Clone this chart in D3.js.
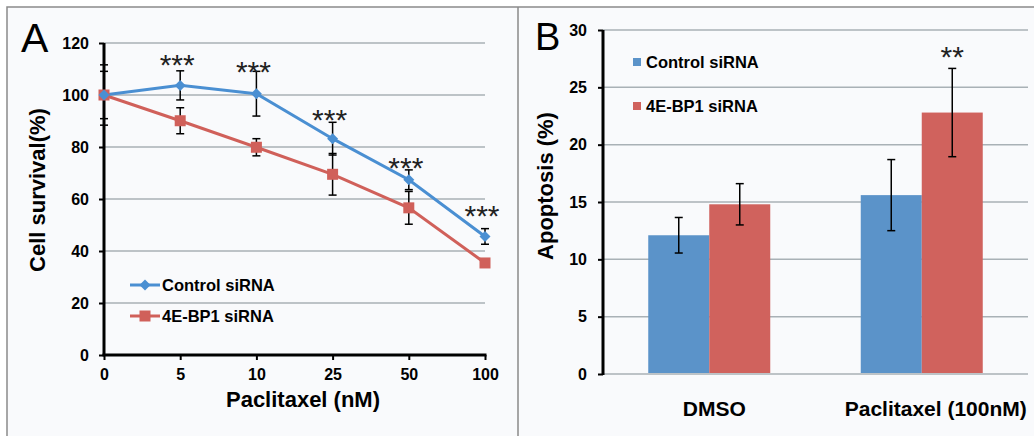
<!DOCTYPE html>
<html><head><meta charset="utf-8">
<script src="https://cdn.jsdelivr.net/npm/d3@7"></script>
<style>body{margin:0;background:#fff}svg{display:block;font-family:"Liberation Sans",Arial,sans-serif}</style>
</head><body>
<script>
// Panel A data
const doses = ["0","5","10","25","50","100"];
const controlSurv = [100, 103.7, 100.5, 83.2, 67.4, 45.6];
const controlSurvErr = [9.1, 5.6, 8.6, 6.3, 3.8, 3.0];
const bp1Surv = [100, 90.1, 79.9, 69.5, 56.6, 35.4];
const bp1SurvErr = [11.6, 5.0, 3.3, 8.0, 6.3, 1.0];
const starsA = ["***","***","***","***","***"];
const starsADose = ["5","10","25","50","100"];
const starsAY = [113.6, 110.7, 92.3, 73.8, 55.2];
const yTicksA = [0,20,40,60,80,100,120];
// Panel B data
const groups = ["DMSO","Paclitaxel (100nM)"];
const seriesB = ["Control siRNA","4E-BP1 siRNA"];
const controlApop = [12.1, 15.6];
const controlApopErr = [1.55, 3.1];
const bp1Apop = [14.8, 22.8];
const bp1ApopErr = [1.8, 3.85];
const starsB = ["", "**"];
const starsBY = 28.1;
const yTicksB = [0,5,10,15,20,25,30];

const blue = "#4a8fd2", red = "#d0605a";
const barBlue = "#5b93c9", barRed = "#d0625d";
const grid = "#a9b1b6";

const svg = d3.select("body").append("svg").attr("width",1034).attr("height",436);
svg.append("rect").attr("x",7).attr("y",7).attr("width",1040).attr("height",440)
  .attr("fill","#f9fafc").attr("stroke","#8a8a8a").attr("stroke-width",1.5);
svg.append("line").attr("x1",518).attr("x2",518).attr("y1",7).attr("y2",436)
  .attr("stroke","#8a8a8a").attr("stroke-width",1.5);

// ---------- Panel A ----------
const xA = d3.scalePoint().domain(doses).range([104,485]).padding(0);
const yA = d3.scaleLinear().domain([0,120]).range([355,43]);
const gA = svg.append("g");
gA.append("text").attr("x",21).attr("y",52).attr("font-size",41).text("A");
// grid
gA.selectAll(".gA").data(yTicksA.filter(d=>d>0)).join("line")
  .attr("x1",104).attr("x2",485).attr("y1",d=>yA(d)).attr("y2",d=>yA(d))
  .attr("stroke",grid).attr("stroke-width",1.5);
// y axis
const yAxA = d3.axisLeft(yA).tickValues(yTicksA).tickSize(5).tickPadding(10);
const gyA = gA.append("g").attr("transform","translate(104,0)").call(yAxA);
gyA.select(".domain").attr("stroke","#000").attr("stroke-width",3).attr("d","M0,43V356");
gyA.selectAll(".tick line").attr("stroke","#000").attr("stroke-width",2);
gyA.selectAll(".tick text").attr("font-size",16).attr("font-weight","bold").attr("fill","#000")
  .attr("font-family","Liberation Sans, Arial, sans-serif");
// x axis
const xAxA = d3.axisBottom(xA).tickSize(5).tickPadding(9);
const gxA = gA.append("g").attr("transform","translate(0,355)").call(xAxA);
gxA.select(".domain").attr("stroke","#000").attr("stroke-width",3).attr("d","M102.5,0H486.5");
gxA.selectAll(".tick line").attr("stroke","#000").attr("stroke-width",2);
gxA.selectAll(".tick text").attr("font-size",16).attr("font-weight","bold").attr("fill","#000")
  .attr("font-family","Liberation Sans, Arial, sans-serif");
gA.append("text").attr("x",303).attr("y",407).attr("text-anchor","middle")
  .attr("font-size",22).attr("font-weight","bold").text("Paclitaxel (nM)");
gA.append("text").attr("transform","translate(45,190) rotate(-90)").attr("text-anchor","middle")
  .attr("font-size",22).attr("font-weight","bold").text("Cell survival(%)");

const lineA = d3.line().x((d,i)=>xA(doses[i])).y(d=>yA(d));
function errBars(g, vals, errs, xf, yf, cap){
  vals.forEach((v,i)=>{
    const x = xf(i), e = errs[i];
    g.append("line").attr("x1",x).attr("x2",x).attr("y1",yf(v+e)).attr("y2",yf(v-e)).attr("stroke","#000").attr("stroke-width",1.5);
    [v+e, v-e].forEach(t=>g.append("line").attr("x1",x-cap/2).attr("x2",x+cap/2).attr("y1",yf(t)).attr("y2",yf(t)).attr("stroke","#000").attr("stroke-width",1.5));
  });
}
gA.append("path").datum(bp1Surv).attr("d",lineA).attr("fill","none").attr("stroke",red).attr("stroke-width",3);
gA.append("path").datum(controlSurv).attr("d",lineA).attr("fill","none").attr("stroke",blue).attr("stroke-width",3);
errBars(gA, bp1Surv, bp1SurvErr, i=>xA(doses[i]), yA, 8);
errBars(gA, controlSurv, controlSurvErr, i=>xA(doses[i]), yA, 8);
gA.selectAll(".sq").data(bp1Surv).join("rect")
  .attr("x",(d,i)=>xA(doses[i])-5.5).attr("y",d=>yA(d)-5.5).attr("width",11).attr("height",11).attr("fill",red);
gA.selectAll(".dm").data(controlSurv).join("path")
  .attr("transform",(d,i)=>`translate(${xA(doses[i])},${yA(d)})`).attr("d","M0,-5.5L5.5,0L0,5.5L-5.5,0Z").attr("fill",blue);
// stars
gA.selectAll(".st").data(starsA).join("text")
  .attr("x",(d,i)=>xA(starsADose[i])-3).attr("y",(d,i)=>yA(starsAY[i])+15)
  .attr("text-anchor","middle").attr("font-size",30).attr("fill","#222").text(d=>d);
// legend A
const legA = [{name:"Control siRNA",c:blue,sym:"d"},{name:"4E-BP1 siRNA",c:red,sym:"s"}];
legA.forEach((l,i)=>{
  const y = 285 + i*31;
  gA.append("line").attr("x1",130).attr("x2",160).attr("y1",y).attr("y2",y).attr("stroke",l.c).attr("stroke-width",3);
  if(l.sym==="d") gA.append("path").attr("transform",`translate(145,${y})`).attr("d","M0,-5.5L5.5,0L0,5.5L-5.5,0Z").attr("fill",l.c);
  else gA.append("rect").attr("x",139.5).attr("y",y-5.5).attr("width",11).attr("height",11).attr("fill",l.c);
  gA.append("text").attr("x",162).attr("y",y+6).attr("font-size",16.5).attr("font-weight","bold").text(l.name);
});

// ---------- Panel B ----------
const xB = d3.scaleBand().domain(groups).range([603,1028]).padding(0);
const yB = d3.scaleLinear().domain([0,30]).range([374,30]);
const barW = 61;
const gB = svg.append("g");
gB.append("text").attr("x",535).attr("y",50).attr("font-size",38).text("B");
gB.selectAll(".gB").data(yTicksB).join("line")
  .attr("x1",603).attr("x2",1028).attr("y1",d=>yB(d)).attr("y2",d=>yB(d))
  .attr("stroke",grid).attr("stroke-width",1.5);
const gyB = gB.append("g").attr("transform","translate(603,0)").call(d3.axisLeft(yB).tickValues(yTicksB).tickSize(5).tickPadding(11));
gyB.select(".domain").attr("stroke","#000").attr("stroke-width",3).attr("d","M0,30V375");
gyB.selectAll(".tick line").attr("stroke","#000").attr("stroke-width",2);
gyB.selectAll(".tick text").attr("font-size",16).attr("font-weight","bold").attr("fill","#000")
  .attr("font-family","Liberation Sans, Arial, sans-serif");
const center = g => xB(g) + xB.bandwidth()/2;
gB.selectAll(".b1").data(controlApop).join("rect")
  .attr("x",(d,i)=>center(groups[i])-barW).attr("y",d=>yB(d)).attr("width",barW).attr("height",d=>yB(0)-yB(d)-1).attr("fill",barBlue);
gB.selectAll(".b2").data(bp1Apop).join("rect")
  .attr("x",(d,i)=>center(groups[i])).attr("y",d=>yB(d)).attr("width",barW).attr("height",d=>yB(0)-yB(d)-1).attr("fill",barRed);
errBars(gB, controlApop, controlApopErr, i=>center(groups[i])-barW/2, yB, 8);
errBars(gB, bp1Apop, bp1ApopErr, i=>center(groups[i])+barW/2, yB, 8);
gB.selectAll(".stB").data(starsB).join("text")
  .attr("x",(d,i)=>center(groups[i])+barW/2).attr("y",yB(starsBY)+15)
  .attr("text-anchor","middle").attr("font-size",30).attr("fill","#222").text(d=>d);
gB.selectAll(".xl").data(groups).join("text")
  .attr("x",(d,i)=>center(d)+(i===0?5:14)).attr("y",416).attr("text-anchor","middle")
  .attr("font-size",21).attr("font-weight","bold").text(d=>d);
gB.append("text").attr("transform","translate(553,186) rotate(-90)").attr("text-anchor","middle")
  .attr("font-size",22).attr("font-weight","bold").text("Apoptosis (%)");
[barBlue,barRed].forEach((c,i)=>{
  const y = 62 + i*44;
  gB.append("rect").attr("x",633).attr("y",y-4).attr("width",8).attr("height",8).attr("fill",c);
  gB.append("text").attr("x",646).attr("y",y+6).attr("font-size",16.5).attr("font-weight","bold").text(seriesB[i]);
});
</script>
</body></html>
